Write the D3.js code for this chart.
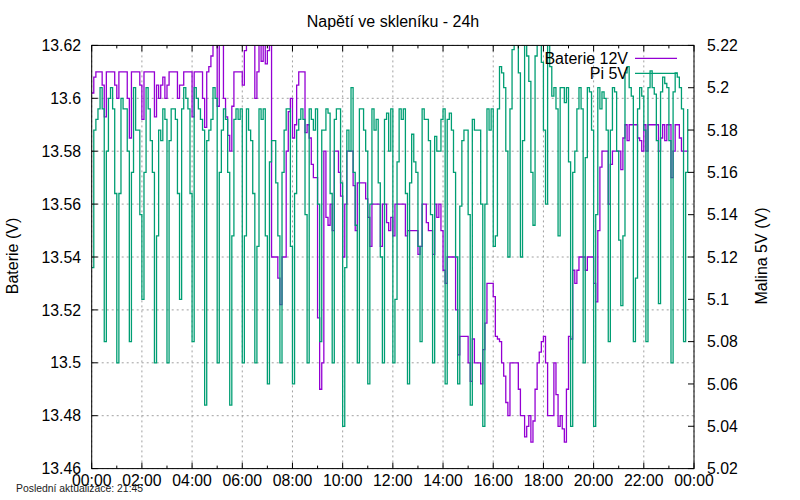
<!DOCTYPE html>
<html><head><meta charset="utf-8">
<script src="https://cdn.jsdelivr.net/npm/d3@7"></script>
<style>
body{margin:0;background:#fff}
svg{display:block}
text{font-family:"Liberation Sans",Arial,Helvetica,sans-serif;fill:#000}
</style>
</head><body>
<svg id="chart" width="800" height="500"></svg>
<script>
const chartTitle = "Napětí ve skleníku - 24h";
const leftLabel = "Baterie (V)";
const rightLabel = "Malina 5V (V)";
const footer = "Poslední aktualizace: 21:45";
const seriesNames = ["Baterie 12V", "Pi 5V"];
const sampleMinutes = 5;

// Baterie 12V, one value every 5 minutes from 00:00
const baterie = [
13.602,13.608,13.61,13.61,13.61,13.605,13.593,13.61,13.61,13.61,13.61,13.605,
13.60,13.61,13.61,13.61,13.61,13.60,13.585,13.61,13.61,13.61,13.61,13.605,
13.592,13.61,13.61,13.61,13.61,13.61,13.593,13.605,13.60,13.605,13.608,13.60,
13.605,13.61,13.61,13.61,13.61,13.60,13.605,13.605,13.61,13.61,13.61,13.61,
13.593,13.61,13.61,13.61,13.61,13.60,13.589,13.61,13.612,13.616,13.625,13.625,
13.597,13.625,13.625,13.60,13.593,13.586,13.58,13.597,13.61,13.61,13.61,13.61,
13.605,13.618,13.625,13.625,13.625,13.625,13.60,13.61,13.625,13.614,13.625,13.613,
13.618,13.625,13.54,13.54,13.54,13.532,13.522,13.54,13.54,13.58,13.595,13.60,
13.585,13.59,13.605,13.61,13.61,13.61,13.587,13.59,13.585,13.575,13.57,13.57,
13.517,13.49,13.50,13.58,13.555,13.552,13.56,13.55,13.58,13.58,13.572,13.563,
13.54,13.56,13.58,13.58,13.58,13.567,13.55,13.568,13.568,13.568,13.568,13.562,
13.555,13.544,13.56,13.56,13.56,13.56,13.544,13.56,13.56,13.553,13.55,13.555,
13.548,13.56,13.56,13.56,13.56,13.56,13.548,13.55,13.55,13.55,13.55,13.55,
13.541,13.544,13.56,13.56,13.553,13.55,13.55,13.541,13.56,13.555,13.56,13.55,
13.535,13.53,13.54,13.54,13.54,13.54,13.52,13.503,13.51,13.51,13.51,13.51,
13.50,13.493,13.509,13.50,13.50,13.50,13.492,13.505,13.515,13.53,13.53,13.53,
13.525,13.51,13.509,13.508,13.50,13.495,13.485,13.48,13.50,13.50,13.50,13.50,
13.49,13.48,13.48,13.472,13.476,13.48,13.47,13.478,13.49,13.50,13.504,13.508,
13.51,13.50,13.48,13.48,13.48,13.50,13.488,13.476,13.48,13.475,13.47,13.49,
13.51,13.509,13.535,13.53,13.535,13.54,13.54,13.54,13.535,13.54,13.54,13.54,
13.53,13.523,13.55,13.574,13.58,13.58,13.58,13.56,13.575,13.58,13.58,13.58,
13.58,13.573,13.585,13.59,13.584,13.59,13.59,13.59,13.59,13.585,13.584,13.58,
13.59,13.58,13.59,13.59,13.59,13.59,13.59,13.58,13.585,13.59,13.584,13.59,
13.59,13.57,13.58,13.59,13.59,13.585,13.58,13.58,13.58,13.58
];

// Pi 5V, one value every 5 minutes from 00:00
const pi5v = [
5.115,5.18,5.185,5.19,5.20,5.19,5.08,5.17,5.195,5.20,5.19,5.15,
5.07,5.15,5.195,5.19,5.19,5.17,5.08,5.16,5.20,5.18,5.18,5.14,
5.10,5.16,5.20,5.19,5.175,5.16,5.07,5.13,5.18,5.175,5.19,5.185,
5.07,5.175,5.19,5.19,5.185,5.15,5.10,5.19,5.20,5.195,5.19,5.15,
5.08,5.20,5.195,5.19,5.185,5.18,5.05,5.175,5.18,5.185,5.20,5.195,
5.07,5.16,5.18,5.19,5.185,5.16,5.05,5.13,5.185,5.19,5.185,5.19,
5.07,5.13,5.19,5.18,5.175,5.15,5.07,5.125,5.19,5.185,5.19,5.13,
5.06,5.165,5.175,5.175,5.155,5.13,5.07,5.16,5.18,5.19,5.19,5.125,
5.06,5.15,5.18,5.185,5.19,5.185,5.14,5.07,5.19,5.185,5.18,5.19,
5.145,5.08,5.18,5.18,5.19,5.188,5.15,5.07,5.185,5.19,5.19,5.155,
5.04,5.115,5.18,5.17,5.20,5.16,5.135,5.07,5.19,5.19,5.18,5.17,
5.06,5.145,5.19,5.18,5.185,5.155,5.12,5.07,5.185,5.188,5.17,5.19,
5.07,5.10,5.165,5.19,5.185,5.19,5.15,5.06,5.155,5.178,5.165,5.16,
5.125,5.08,5.19,5.185,5.185,5.175,5.14,5.07,5.177,5.17,5.17,5.185,
5.19,5.06,5.185,5.188,5.18,5.16,5.12,5.06,5.144,5.175,5.18,5.18,
5.14,5.05,5.185,5.18,5.18,5.18,5.145,5.04,5.145,5.19,5.18,5.19,
5.125,5.13,5.19,5.21,5.207,5.20,5.17,5.12,5.19,5.218,5.23,5.225,
5.207,5.12,5.175,5.23,5.215,5.203,5.16,5.135,5.215,5.23,5.225,5.212,
5.18,5.145,5.225,5.21,5.196,5.20,5.19,5.13,5.20,5.20,5.193,5.20,
5.165,5.04,5.16,5.17,5.19,5.20,5.19,5.07,5.167,5.20,5.198,5.18,
5.04,5.14,5.20,5.19,5.198,5.195,5.18,5.08,5.18,5.20,5.198,5.17,
5.128,5.097,5.13,5.207,5.21,5.20,5.196,5.08,5.11,5.19,5.20,5.196,
5.18,5.08,5.20,5.208,5.20,5.197,5.175,5.098,5.198,5.205,5.202,5.20,
5.175,5.07,5.198,5.207,5.205,5.20,5.19,5.08,5.16,5.19
];

const leftTicks = [13.46,13.48,13.50,13.52,13.54,13.56,13.58,13.60,13.62];
const rightTicks = [5.02,5.04,5.06,5.08,5.10,5.12,5.14,5.16,5.18,5.20,5.22];
const timeTickLabels = ["00:00","02:00","04:00","06:00","08:00","10:00","12:00","14:00","16:00","18:00","20:00","22:00","00:00"];
const leftDomain = [13.46, 13.62];
const rightDomain = [5.02, 5.22];

const W = 800, H = 500;
const plot = {left: 91.7, right: 694, top: 45.4, bottom: 468.6};
const colors = {bat: "#9400d3", pi: "#009e73", grid: "#a0a0a0"};

const svg = d3.select("#chart");
const x = d3.scaleLinear().domain([0, 24*60]).range([plot.left, plot.right]);
const yL = d3.scaleLinear().domain(leftDomain).range([plot.bottom, plot.top]);
const yR = d3.scaleLinear().domain(rightDomain).range([plot.bottom, plot.top]);
const fmt = v => String(+v.toFixed(2));

svg.append("defs").append("clipPath").attr("id","clip")
  .append("rect").attr("x",plot.left).attr("y",plot.top)
  .attr("width",plot.right-plot.left).attr("height",plot.bottom-plot.top);

// grid
const grid = svg.append("g").attr("stroke",colors.grid).attr("stroke-width",1).attr("stroke-dasharray","2,3");
leftTicks.forEach(v => {
  grid.append("line").attr("x1",plot.left).attr("x2",plot.right).attr("y1",yL(v)).attr("y2",yL(v));
});
timeTickLabels.forEach((t,i) => {
  const xx = x(i*120);
  grid.append("line").attr("x1",xx).attr("x2",xx).attr("y1",plot.top).attr("y2",plot.bottom);
});

// data lines
const batData = baterie.map((v,i)=>({t:i*sampleMinutes, v}));
const piData = pi5v.map((v,i)=>({t:i*sampleMinutes, v}));
const lines = svg.append("g").attr("clip-path","url(#clip)");
lines.append("path").datum(batData)
  .attr("d", d3.line().x(d=>x(d.t)).y(d=>yL(d.v)).curve(d3.curveStepAfter))
  .attr("fill","none").attr("stroke",colors.bat).attr("stroke-width",1.3);
lines.append("path").datum(piData)
  .attr("d", d3.line().x(d=>x(d.t)).y(d=>yR(d.v)).curve(d3.curveStepAfter))
  .attr("fill","none").attr("stroke",colors.pi).attr("stroke-width",1.3);

// border
svg.append("rect").attr("x",plot.left).attr("y",plot.top)
  .attr("width",plot.right-plot.left).attr("height",plot.bottom-plot.top)
  .attr("fill","none").attr("stroke","#000").attr("stroke-width",1);

// ticks
const tk = svg.append("g").attr("stroke","#000").attr("stroke-width",1);
for (let h=0; h<=24; h++) {
  const xx = x(h*60), len = (h%2===0)?6:3;
  tk.append("line").attr("x1",xx).attr("x2",xx).attr("y1",plot.bottom).attr("y2",plot.bottom-len);
  tk.append("line").attr("x1",xx).attr("x2",xx).attr("y1",plot.top).attr("y2",plot.top+len);
}
leftTicks.forEach(v => tk.append("line").attr("x1",plot.left).attr("x2",plot.left+6).attr("y1",yL(v)).attr("y2",yL(v)));
rightTicks.forEach(v => tk.append("line").attr("x1",plot.right).attr("x2",plot.right-6).attr("y1",yR(v)).attr("y2",yR(v)));

// tick labels
const fs = "15.8px";
svg.append("g").selectAll("text").data(timeTickLabels).join("text")
  .attr("x",(d,i)=>x(i*120)).attr("y",486).attr("text-anchor","middle")
  .style("font-size",fs).text(d=>d);
svg.append("g").selectAll("text").data(leftTicks).join("text")
  .attr("x",81).attr("y",d=>yL(d)).attr("dy","0.36em").attr("text-anchor","end")
  .style("font-size",fs).text(fmt);
svg.append("g").selectAll("text").data(rightTicks).join("text")
  .attr("x",707).attr("y",d=>yR(d)).attr("dy","0.36em").attr("text-anchor","start")
  .style("font-size",fs).text(fmt);

// titles
svg.append("text").attr("x",393).attr("y",27).attr("text-anchor","middle").style("font-size","16px").text(chartTitle);
svg.append("text").attr("transform","translate(18,256) rotate(-90)").attr("text-anchor","middle").style("font-size","16px").text(leftLabel);
svg.append("text").attr("transform","translate(767,256) rotate(-90)").attr("text-anchor","middle").style("font-size","16px").text(rightLabel);
svg.append("text").attr("x",16).attr("y",492).style("font-size","10.4px").style("fill","#222").text(footer);

// legend
const legend = svg.append("g");
[[seriesNames[0],colors.bat,58.3],[seriesNames[1],colors.pi,73.3]].forEach(([name,c,yy]) => {
  legend.append("text").attr("x",628).attr("y",yy).attr("dy","0.36em").attr("text-anchor","end").style("font-size","16px").text(name);
  legend.append("line").attr("x1",635).attr("x2",677).attr("y1",yy).attr("y2",yy).attr("stroke",c).attr("stroke-width",1.3);
});
</script>
</body></html>
